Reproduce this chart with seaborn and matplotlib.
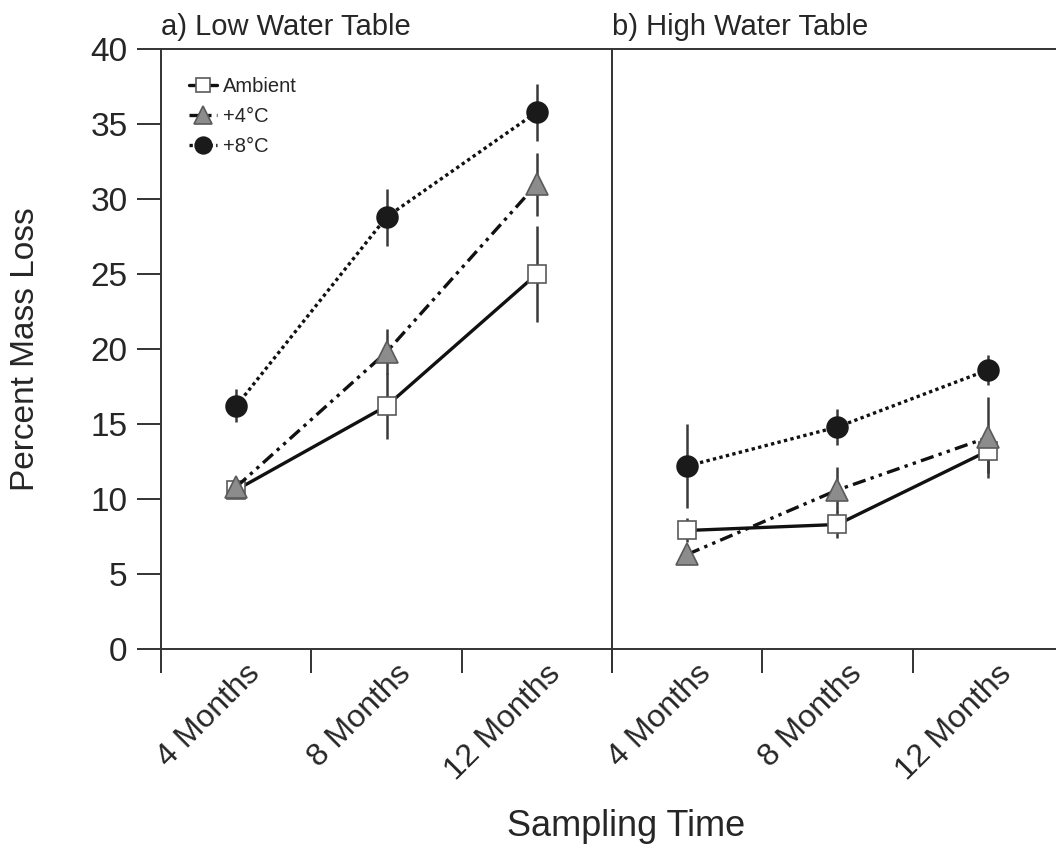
import numpy as np
import pandas as pd
import matplotlib
matplotlib.use('Agg')
import matplotlib.pyplot as plt
import matplotlib.transforms as mtransforms
import seaborn as sns

# sampling times and treatments
times = ['4 Months', '8 Months', '12 Months']
treatments = ['Ambient', '+4°C', '+8°C']
panels = ['a) Low Water Table', 'b) High Water Table']

# low water table: mean % mass loss and error
low_ambient = [10.6, 16.2, 25.0]
low_ambient_err = [0.3, 2.2, 3.2]
low_4c = [10.8, 19.8, 31.0]
low_4c_err = [0.3, 1.5, 2.1]
low_8c = [16.2, 28.8, 35.8]
low_8c_err = [1.1, 1.9, 1.9]

# high water table
high_ambient = [7.9, 8.3, 13.2]
high_ambient_err = [0.8, 0.9, 1.5]
high_4c = [6.3, 10.6, 14.1]
high_4c_err = [0.4, 1.5, 2.7]
high_8c = [12.2, 14.8, 18.6]
high_8c_err = [2.8, 1.2, 1.0]

means = {
    panels[0]: [low_ambient, low_4c, low_8c],
    panels[1]: [high_ambient, high_4c, high_8c],
}
errs = {
    panels[0]: [low_ambient_err, low_4c_err, low_8c_err],
    panels[1]: [high_ambient_err, high_4c_err, high_8c_err],
}

rows = []
for p in panels:
    for t, m, e in zip(treatments, means[p], errs[p]):
        for i, tm in enumerate(times):
            rows.append({'panel': p, 'treatment': t, 'time': tm, 'x': i,
                         'loss': m[i], 'err': e[i]})
df = pd.DataFrame(rows)

# marker / line look for each treatment
look = {
    'Ambient': dict(marker='s', ms=13, mfc='white', mec='#5a5a5a',
                    ls='-'),
    '+4°C': dict(marker='^', ms=16, mfc='#8c8c8c', mec='#5a5a5a',
                 ls=(0, (4, 1.6, 1, 1.6, 1, 1.6))),
    '+8°C': dict(marker='o', ms=15, mfc='#1a1a1a', mec='#1a1a1a',
                 ls=(0, (1, 1))),
}

sns.set_style('ticks')
plt.rcParams['font.family'] = ['Liberation Sans', 'DejaVu Sans']
plt.rcParams['axes.edgecolor'] = '#333333'
plt.rcParams['axes.linewidth'] = 1.4

fig = plt.figure(figsize=(10.56, 8.48), dpi=100)
ax1 = fig.add_axes([0.1525, 0.2347, 0.4271, 0.7075])
ax2 = fig.add_axes([0.5795, 0.2347, 0.4271, 0.7075])

for ax, p in zip([ax1, ax2], panels):
    d = df[df['panel'] == p]
    for t in treatments:
        sub = d[d['treatment'] == t]
        ax.errorbar(sub['x'], sub['loss'], yerr=sub['err'], fmt='none',
                    ecolor='#3a3a3a', elinewidth=1.8, capsize=0, zorder=2)
    for t in treatments:
        sub = d[d['treatment'] == t]
        lk = look[t]
        sns.lineplot(data=sub, x='x', y='loss', ax=ax, color='#111111',
                     linewidth=2.4, linestyle=lk['ls'], marker=lk['marker'],
                     markersize=lk['ms'], markerfacecolor=lk['mfc'],
                     markeredgecolor=lk['mec'], markeredgewidth=1.2,
                     errorbar=None, label=t, zorder=3)

    ax.set_xlim(-0.5, 2.5)
    ax.set_ylim(0, 40)
    ax.set_xlabel('')
    ax.set_ylabel('')
    ax.set_xticks([-0.5, 0.5, 1.5, 2.5])
    ax.set_xticklabels([])
    ax.set_xticks(range(len(times)), minor=True)
    ax.set_xticklabels(times, minor=True, rotation=45, ha='right',
                       va='top', rotation_mode='anchor', fontsize=23)
    ax.tick_params(axis='x', which='major', length=17, width=1.4,
                   color='#333333', direction='out')
    ax.tick_params(axis='x', which='minor', length=0, pad=4)
    ax.set_title(p, loc='left', fontsize=21, pad=10)
    for s in ['top', 'left', 'bottom']:
        ax.spines[s].set_visible(True)
    ax.spines['right'].set_visible(ax is ax1)
    offset = mtransforms.ScaledTranslation(9 / 100, -4 / 100,
                                           fig.dpi_scale_trans)
    for lbl in ax.get_xticklabels(minor=True):
        lbl.set_transform(lbl.get_transform() + offset)

ax1.set_yticks(range(0, 41, 5))
ax1.tick_params(axis='y', length=17, width=1.4, color='#333333',
                labelsize=24, pad=7, direction='out')
ax2.set_yticks([])
if ax2.get_legend():
    ax2.get_legend().remove()

ax1.legend(loc='upper left', bbox_to_anchor=(0.04, 0.97), frameon=False,
           fontsize=14.5, handlelength=1.4, handletextpad=0.3,
           labelspacing=0.55, borderpad=0, markerscale=0.8)

fig.text(26 / 1056, (848 - 349) / 848, 'Percent Mass Loss', rotation=90,
         ha='center', va='center', fontsize=24)
fig.text(626 / 1056, (848 - 826) / 848, 'Sampling Time', ha='center',
         va='center', fontsize=26)

fig.savefig('out.png', dpi=100)
